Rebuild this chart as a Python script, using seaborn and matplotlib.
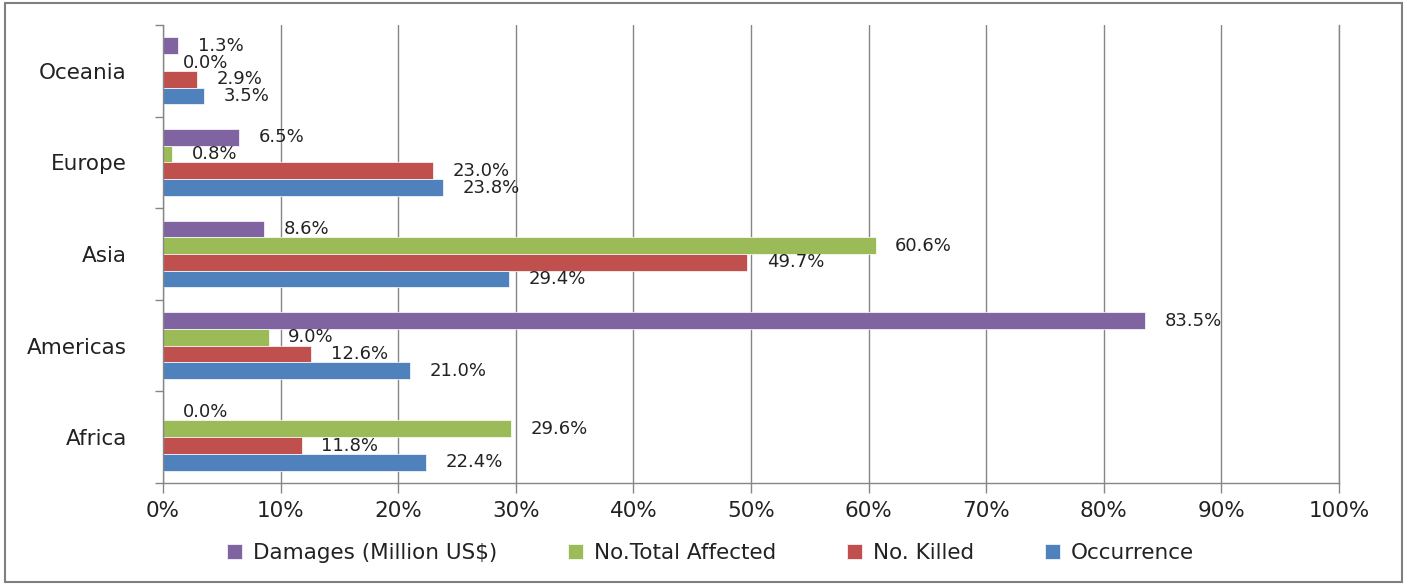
# Horizontal grouped bar chart: disaster impact shares by region
import seaborn as sns
import matplotlib.pyplot as plt
import pandas as pd
from matplotlib.patches import Rectangle
from matplotlib.ticker import FixedLocator, PercentFormatter

regions = ["Oceania", "Europe", "Asia", "Americas", "Africa"]
series = ["Damages (Million US$)", "No.Total Affected", "No. Killed", "Occurrence"]

damages = [1.3, 6.5, 8.6, 83.5, 0.0]
affected = [0.0, 0.8, 60.6, 9.0, 29.6]
killed = [2.9, 23.0, 49.7, 12.6, 11.8]
occurrence = [3.5, 23.8, 29.4, 21.0, 22.4]

colors = ["#8064A2", "#9BBB59", "#C0504D", "#4F81BD"]

df = pd.DataFrame({
    "region": regions * 4,
    "series": [s for s in series for _ in regions],
    "value": damages + affected + killed + occurrence,
})

sns.set_theme(style="white")
plt.rcParams["font.family"] = ["DejaVu Sans"]

fig = plt.figure(figsize=(14.07, 5.84), dpi=100)
ax = fig.add_axes([0.1158, 0.173, 0.8359, 0.784])

sns.barplot(
    data=df, y="region", x="value", hue="series",
    order=regions, hue_order=series, palette=colors, saturation=1,
    orient="h", width=0.73, edgecolor="white", linewidth=0.5,
    errorbar=None, legend=True, ax=ax,
)

for c in ax.containers:
    ax.bar_label(c, fmt="%.1f%%", padding=14, fontsize=13, color="#222222")

ax.set_xlim(0, 100)
ax.set_ylim(4.5, -0.5)
ax.set_xticks(range(0, 101, 10))
ax.xaxis.set_major_formatter(PercentFormatter(decimals=0))
ax.tick_params(axis="x", bottom=True, direction="out", length=7, width=1,
               color="#868686", labelsize=15.5, pad=6, labelcolor="#222222")
ax.tick_params(axis="y", which="major", length=0, labelsize=15.5, pad=26,
               labelcolor="#222222")
ax.yaxis.set_minor_locator(FixedLocator([i - 0.5 for i in range(6)]))
ax.tick_params(axis="y", which="minor", direction="out", length=6, width=1,
               color="#868686", left=True)
ax.set_xlabel("")
ax.set_ylabel("")

ax.grid(axis="x", color="#868686", linewidth=1)
ax.set_axisbelow(True)
ax.spines["top"].set_visible(False)
for side in ["left", "bottom", "right"]:
    ax.spines[side].set_color("#868686")
    ax.spines[side].set_linewidth(1)

handles, labels = ax.get_legend_handles_labels()
ax.get_legend().remove()
fig.legend(handles, labels, loc="center", bbox_to_anchor=(0.505, 0.053), ncol=4,
           frameon=False, fontsize=15.5, handlelength=0.7, handleheight=0.7,
           handletextpad=0.5, columnspacing=3.3, labelcolor="#222222")

fig.patches.append(Rectangle((0.0036, 0.003), 0.9929, 0.992, transform=fig.transFigure,
                             fill=False, edgecolor="#7f7f7f", linewidth=1.5))

fig.savefig("out.png", dpi=100)
